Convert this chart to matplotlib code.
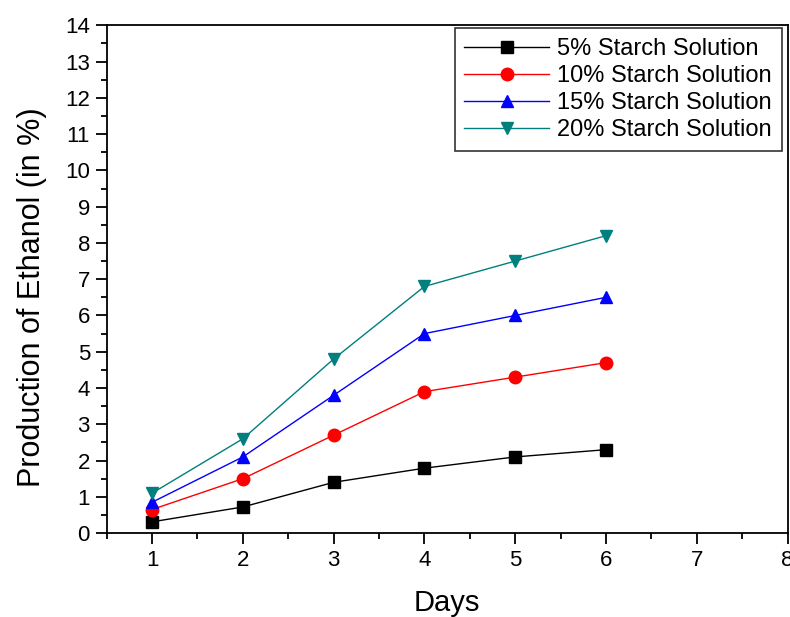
import matplotlib.pyplot as plt
from matplotlib.ticker import MultipleLocator

plt.rcParams['font.family'] = ['Liberation Sans', 'DejaVu Sans']

# Data
days = [1, 2, 3, 4, 5, 6]
starch_5 = [0.31, 0.72, 1.40, 1.79, 2.10, 2.30]
starch_10 = [0.65, 1.50, 2.70, 3.90, 4.30, 4.70]
starch_15 = [0.85, 2.10, 3.80, 5.50, 6.00, 6.50]
starch_20 = [1.10, 2.60, 4.80, 6.80, 7.50, 8.20]

fig = plt.figure(figsize=(7.9, 6.17), dpi=100)
ax = fig.add_axes([0.135, 0.136, 0.862, 0.823])

ax.plot(days, starch_5, color='black', marker='s', markersize=8, lw=1, label='5% Starch Solution')
ax.plot(days, starch_10, color='red', marker='o', markersize=9, lw=1, label='10% Starch Solution')
ax.plot(days, starch_15, color='blue', marker='^', markersize=9, lw=1, label='15% Starch Solution')
ax.plot(days, starch_20, color='#007F7F', marker='v', markersize=9, lw=1, label='20% Starch Solution')

ax.set_xlim(0.5, 8)
ax.set_ylim(0, 14)
ax.xaxis.set_major_locator(MultipleLocator(1))
ax.xaxis.set_minor_locator(MultipleLocator(0.5))
ax.yaxis.set_major_locator(MultipleLocator(1))
ax.yaxis.set_minor_locator(MultipleLocator(0.5))
ax.tick_params(which='major', direction='out', length=8, width=1.3, labelsize=16, pad=4)
ax.tick_params(which='minor', direction='out', length=4, width=1.3)
for s in ax.spines.values():
    s.set_linewidth(1.3)

ax.set_xlabel('Days', fontsize=21, labelpad=13)
ax.set_ylabel('Production of Ethanol (in %)', fontsize=22)
ax.yaxis.set_label_coords(-0.087, 0.465)

leg = ax.legend(loc='upper right', fontsize=17, frameon=True, fancybox=False,
                edgecolor='black', handlelength=3.6, borderpad=0.4, labelspacing=0.22,
                handletextpad=0.35, borderaxespad=0, bbox_to_anchor=(0.991, 0.994))
leg.get_frame().set_linewidth(1.2)

fig.savefig('out.png', dpi=100)
